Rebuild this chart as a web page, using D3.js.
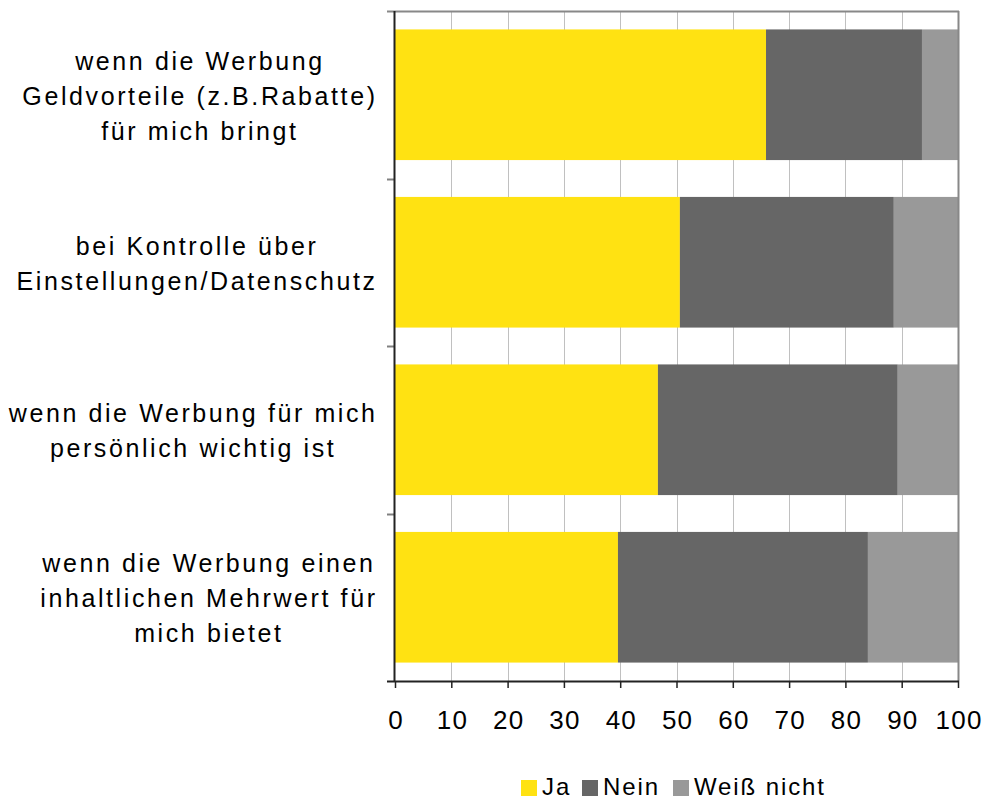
<!DOCTYPE html>
<html><head><meta charset="utf-8">
<script src="https://cdn.jsdelivr.net/npm/d3@7"></script>
<style>body{margin:0;background:#fff}svg{display:block}text{font-family:"Liberation Sans",Arial,sans-serif;fill:#000}</style>
</head><body>
<svg id="c" width="984" height="799"></svg>
<script>
const categories = [
  ["wenn die Werbung","Geldvorteile (z.B.Rabatte)","für mich bringt"],
  ["bei Kontrolle über","Einstellungen/Datenschutz"],
  ["wenn die Werbung für mich","persönlich wichtig ist"],
  ["wenn die Werbung einen","inhaltlichen Mehrwert für","mich bietet"]
];
const seriesNames = ["Ja","Nein","Weiß nicht"];
const ja = [65.9, 50.6, 46.7, 39.6];
const nein = [27.7, 38.0, 42.6, 44.4];
const weiss = [6.4, 11.4, 10.7, 16.0];
const xTicks = [0,10,20,30,40,50,60,70,80,90,100];
const colors = ["#FFE212","#666666","#999999"];

const svg = d3.select("#c");
const L = 395, R = 958, T = 11, B = 681;
const x = d3.scaleLinear().domain([0,100]).range([L,R]);
const idx = d3.range(categories.length);
const y = d3.scaleBand().domain(idx).range([T,B]).paddingInner(0.22).paddingOuter(0.11);
const yOuter = d3.scaleBand().domain(idx).range([T,B]);

// gridlines
svg.append("g").selectAll("line").data(xTicks.slice(1,-1)).join("line")
  .attr("x1",d=>Math.round(x(d))+0.5).attr("x2",d=>Math.round(x(d))+0.5)
  .attr("y1",T).attr("y2",B).attr("stroke","#c0c0c0").attr("stroke-width",1);

// bars
const rows = idx.map(i=>({i, Ja:ja[i], Nein:nein[i], "Weiß nicht":weiss[i]}));
const stack = d3.stack().keys(seriesNames)(rows);
svg.append("g").selectAll("g").data(stack).join("g").attr("fill",(d,k)=>colors[k])
  .selectAll("rect").data(d=>d).join("rect")
  .attr("x",d=>x(d[0])).attr("width",d=>x(d[1])-x(d[0]))
  .attr("y",d=>y(d.data.i)).attr("height",y.bandwidth());

// frame top & right
svg.append("line").attr("x1",387).attr("x2",R+1).attr("y1",T+0.5).attr("y2",T+0.5).attr("stroke","#888").attr("stroke-width",2);
svg.append("line").attr("x1",R+0.5).attr("x2",R+0.5).attr("y1",T).attr("y2",B).attr("stroke","#888").attr("stroke-width",2);

// left axis ticks
svg.append("g").selectAll("line").data(idx.slice(1)).join("line")
  .attr("x1",387).attr("x2",L).attr("y1",d=>Math.round(yOuter(d))+0.5).attr("y2",d=>Math.round(yOuter(d))+0.5)
  .attr("stroke","#808080").attr("stroke-width",2);
// left axis line
svg.append("line").attr("x1",L-0.5).attr("x2",L-0.5).attr("y1",T).attr("y2",B+1).attr("stroke","#222").attr("stroke-width",2);

// bottom axis
const xAxis = d3.axisBottom(x).tickValues(xTicks).tickSize(7).tickPadding(23).tickSizeOuter(0);
const gx = svg.append("g").attr("transform",`translate(0,${B})`).call(xAxis);
gx.select(".domain").attr("stroke","#222").attr("stroke-width",2).attr("d",`M387,0.5H${R+1}`);
gx.selectAll(".tick line").attr("stroke","#222").attr("stroke-width",1.5);
gx.selectAll(".tick text").attr("font-size",26).attr("letter-spacing",1.2).attr("dx",0.6)
  .attr("font-family",'"Liberation Sans",Arial,sans-serif').attr("fill","#000");

// category labels
const lh = 35;
const ls = 2.6;
categories.forEach((lines,i)=>{
  const g = svg.append("g");
  const cy = yOuter(i)+yOuter.bandwidth()/2;
  const texts = g.selectAll("text").data(lines).join("text")
    .attr("font-size",25).attr("letter-spacing",ls).attr("text-anchor","middle")
    .attr("y",(d,k)=>cy+(k-(lines.length-1)/2)*lh+10).text(d=>d);
  let maxW = 0;
  texts.each(function(){maxW=Math.max(maxW,this.getComputedTextLength()-ls);});
  texts.attr("x",375-maxW/2+ls/2);
});

// legend
const lg = svg.append("g");
const legX = [521,582,673];
seriesNames.forEach((n,k)=>{
  lg.append("rect").attr("x",legX[k]).attr("y",780).attr("width",16).attr("height",16).attr("fill",colors[k]);
  lg.append("text").attr("x",legX[k]+21).attr("y",795).attr("font-size",24).attr("letter-spacing",1.9).text(n);
});
</script>
</body></html>
